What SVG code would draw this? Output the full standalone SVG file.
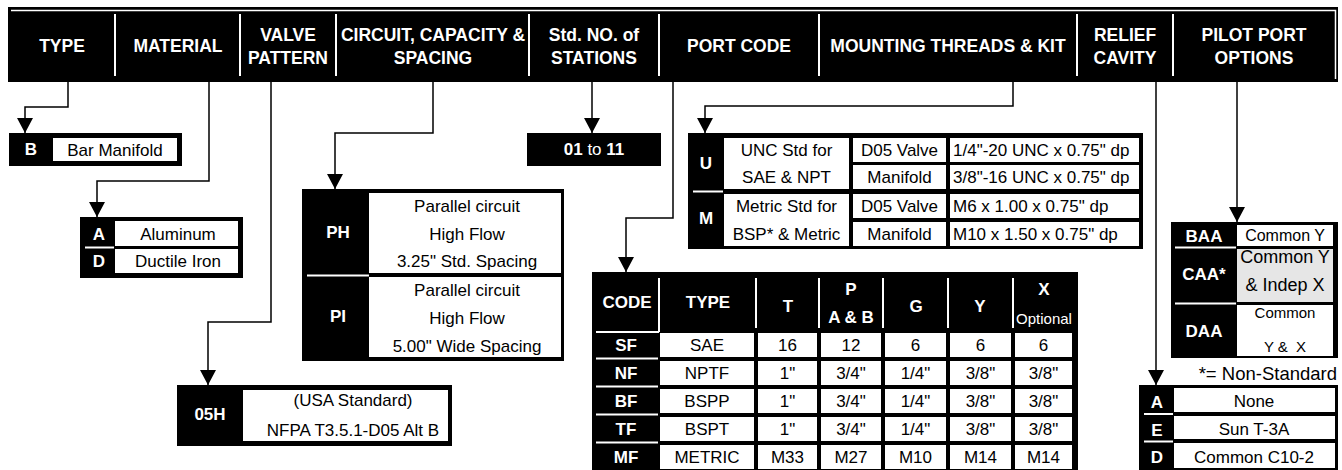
<svg xmlns="http://www.w3.org/2000/svg" width="1342" height="470" viewBox="0 0 1342 470">
<style>
.blk{fill:#000}
.wht{fill:#fff}
.gry{fill:#e6e6e6}
.sep{stroke:#fff;stroke-width:2;fill:none}
.sep1{stroke:#fff;stroke-width:1.5;fill:none}
.hd{font-family:"Liberation Sans",Arial,sans-serif;font-weight:bold;font-size:17.5px;fill:#fff;text-anchor:middle}
.lb{font-family:"Liberation Sans",Arial,sans-serif;font-weight:bold;font-size:17px;fill:#fff;text-anchor:middle}
.t{font-family:"Liberation Sans",Arial,sans-serif;font-size:17px;fill:#000;text-anchor:middle}
.tl{font-family:"Liberation Sans",Arial,sans-serif;font-size:17px;fill:#000}
.conn{fill:none;stroke:#000;stroke-width:1.5;marker-end:url(#arr)}
</style>
<defs>
<marker id="arr" markerUnits="userSpaceOnUse" markerWidth="16" markerHeight="16" refX="15" refY="8" orient="auto">
<path d="M0,0 L15,8 L0,16 Z" fill="#000"/>
</marker>
</defs>
<rect width="1342" height="470" fill="#fff"/>

<g id="header">
<rect class="blk" x="8" y="7" width="1330" height="75"/>
<path class="sep1" d="M11,10.5 H1335.5 V79"/>
<path class="sep" d="M115,14 V76 M240,14 V76 M336,14 V76 M529,14 V76 M659,14 V76 M819,14 V76 M1077,14 V76 M1173,14 V76"/>
<text class="hd" x="62" y="52">TYPE</text>
<text class="hd" x="178" y="52">MATERIAL</text>
<text class="hd" x="288" y="41">VALVE</text>
<text class="hd" x="288" y="64">PATTERN</text>
<text class="hd" x="433" y="41">CIRCUIT, CAPACITY &amp;</text>
<text class="hd" x="433" y="64">SPACING</text>
<text class="hd" x="594" y="41">Std. NO. of</text>
<text class="hd" x="594" y="64">STATIONS</text>
<text class="hd" x="739" y="52">PORT CODE</text>
<text class="hd" x="948" y="52">MOUNTING THREADS &amp; KIT</text>
<text class="hd" x="1125" y="41">RELIEF</text>
<text class="hd" x="1125" y="64">CAVITY</text>
<text class="hd" x="1254" y="41">PILOT PORT</text>
<text class="hd" x="1254" y="64">OPTIONS</text>
</g>

<g id="connectors">
<path class="conn" d="M68,82 V107 H25 V133"/>
<path class="conn" d="M209,82 V181 H97 V217"/>
<path class="conn" d="M271,82 V322 H208 V385"/>
<path class="conn" d="M433,82 V133 H335 V189"/>
<path class="conn" d="M592,82 V133"/>
<path class="conn" d="M673,82 V218 H626 V272"/>
<path class="conn" d="M1013,82 V106 H705 V133"/>
<path class="conn" d="M1156,82 V385"/>
<path class="conn" d="M1237,82 V222"/>
</g>

<g id="type-box">
<rect class="blk" x="9" y="133" width="173" height="33"/>
<rect class="wht" x="53" y="138" width="124" height="23"/>
<text class="lb" x="31" y="155">B</text>
<text class="t" x="115" y="156">Bar Manifold</text>
</g>

<g id="material-box">
<rect class="blk" x="80" y="217" width="163" height="61"/>
<rect class="wht" x="115" y="221" width="123" height="25"/>
<rect class="wht" x="115" y="249" width="123" height="24"/>
<path class="sep" d="M85,247.5 H114"/>
<text class="lb" x="99" y="240">A</text>
<text class="lb" x="99" y="267">D</text>
<text class="t" x="178" y="240">Aluminum</text>
<text class="t" x="178" y="267">Ductile Iron</text>
</g>

<g id="valve-box">
<rect class="blk" x="177" y="385" width="275" height="61"/>
<rect class="wht" x="243" y="390" width="205" height="51"/>
<text class="lb" x="210" y="420">05H</text>
<text class="t" x="353" y="406">(USA Standard)</text>
<text class="t" x="353" y="436">NFPA T3.5.1-D05 Alt B</text>
</g>

<g id="circuit-box">
<rect class="blk" x="302" y="189" width="262" height="172"/>
<rect class="wht" x="369" y="193" width="192" height="80"/>
<rect class="wht" x="369" y="277" width="192" height="80"/>
<path class="sep" d="M307,275.5 H369"/>
<text class="lb" x="338" y="238">PH</text>
<text class="lb" x="338" y="322">PI</text>
<text class="t" x="467" y="212">Parallel circuit</text>
<text class="t" x="467" y="240">High Flow</text>
<text class="t" x="467" y="267">3.25" Std. Spacing</text>
<text class="t" x="467" y="296">Parallel circuit</text>
<text class="t" x="467" y="324">High Flow</text>
<text class="t" x="467" y="352">5.00" Wide Spacing</text>
</g>

<g id="stations-box">
<rect class="blk" x="527" y="133" width="134" height="33"/>
<text class="lb" x="594" y="155">01<tspan style="font-weight:normal"> to </tspan>11</text>
</g>

<g id="port-table">
<rect class="blk" x="592" y="272" width="486" height="198"/>
<path class="sep" d="M659,278 V332 M596,332 H659"/>
<path class="sep" d="M756,278 V328 M819,278 V328 M883,278 V328 M948,278 V328 M1013,278 V328"/>
<path class="sep" d="M596,358.5 H658 M596,386.5 H658 M596,414.5 H658 M596,442.5 H658"/>
<text class="lb" x="627" y="308">CODE</text>
<text class="lb" x="708" y="308">TYPE</text>
<text class="lb" x="788" y="312">T</text>
<text class="lb" x="851" y="295">P</text>
<text class="lb" x="851" y="323">A &amp; B</text>
<text class="lb" x="916" y="312">G</text>
<text class="lb" x="980" y="312">Y</text>
<text class="lb" x="1044" y="295">X</text>
<text class="lb" x="1044" y="324" style="font-weight:normal;font-size:15px">Optional</text>
<g id="port-cells">
<rect class="wht" x="660" y="333" width="94" height="24"/><rect class="wht" x="758" y="333" width="59" height="24"/><rect class="wht" x="821" y="333" width="60" height="24"/><rect class="wht" x="885" y="333" width="61" height="24"/><rect class="wht" x="950" y="333" width="61" height="24"/><rect class="wht" x="1015" y="333" width="57" height="24"/>
<rect class="wht" x="660" y="361" width="94" height="24"/><rect class="wht" x="758" y="361" width="59" height="24"/><rect class="wht" x="821" y="361" width="60" height="24"/><rect class="wht" x="885" y="361" width="61" height="24"/><rect class="wht" x="950" y="361" width="61" height="24"/><rect class="wht" x="1015" y="361" width="57" height="24"/>
<rect class="wht" x="660" y="389" width="94" height="24"/><rect class="wht" x="758" y="389" width="59" height="24"/><rect class="wht" x="821" y="389" width="60" height="24"/><rect class="wht" x="885" y="389" width="61" height="24"/><rect class="wht" x="950" y="389" width="61" height="24"/><rect class="wht" x="1015" y="389" width="57" height="24"/>
<rect class="wht" x="660" y="417" width="94" height="24"/><rect class="wht" x="758" y="417" width="59" height="24"/><rect class="wht" x="821" y="417" width="60" height="24"/><rect class="wht" x="885" y="417" width="61" height="24"/><rect class="wht" x="950" y="417" width="61" height="24"/><rect class="wht" x="1015" y="417" width="57" height="24"/>
<rect class="wht" x="660" y="445" width="94" height="24"/><rect class="wht" x="758" y="445" width="59" height="24"/><rect class="wht" x="821" y="445" width="60" height="24"/><rect class="wht" x="885" y="445" width="61" height="24"/><rect class="wht" x="950" y="445" width="61" height="24"/><rect class="wht" x="1015" y="445" width="57" height="24"/>
</g>
<text class="lb" x="626" y="351">SF</text>
<text class="lb" x="626" y="379">NF</text>
<text class="lb" x="626" y="407">BF</text>
<text class="lb" x="626" y="435">TF</text>
<text class="lb" x="626" y="463">MF</text>
<text class="t" x="707" y="351">SAE</text><text class="t" x="787.5" y="351">16</text><text class="t" x="851" y="351">12</text><text class="t" x="915.5" y="351">6</text><text class="t" x="980.5" y="351">6</text><text class="t" x="1043.5" y="351">6</text>
<text class="t" x="707" y="379">NPTF</text><text class="t" x="787.5" y="379">1"</text><text class="t" x="851" y="379">3/4"</text><text class="t" x="915.5" y="379">1/4"</text><text class="t" x="980.5" y="379">3/8"</text><text class="t" x="1043.5" y="379">3/8"</text>
<text class="t" x="707" y="407">BSPP</text><text class="t" x="787.5" y="407">1"</text><text class="t" x="851" y="407">3/4"</text><text class="t" x="915.5" y="407">1/4"</text><text class="t" x="980.5" y="407">3/8"</text><text class="t" x="1043.5" y="407">3/8"</text>
<text class="t" x="707" y="435">BSPT</text><text class="t" x="787.5" y="435">1"</text><text class="t" x="851" y="435">3/4"</text><text class="t" x="915.5" y="435">1/4"</text><text class="t" x="980.5" y="435">3/8"</text><text class="t" x="1043.5" y="435">3/8"</text>
<text class="t" x="707" y="463">METRIC</text><text class="t" x="787.5" y="463">M33</text><text class="t" x="851" y="463">M27</text><text class="t" x="915.5" y="463">M10</text><text class="t" x="980.5" y="463">M14</text><text class="t" x="1043.5" y="463">M14</text>
</g>

<g id="mounting-table">
<rect class="blk" x="688" y="133" width="455" height="116"/>
<rect class="wht" x="724" y="138" width="125" height="51"/>
<rect class="wht" x="724" y="194" width="125" height="52"/>
<rect class="wht" x="853" y="138" width="93" height="24"/>
<rect class="wht" x="853" y="165" width="93" height="24"/>
<rect class="wht" x="853" y="194" width="93" height="24"/>
<rect class="wht" x="853" y="222" width="93" height="24"/>
<rect class="wht" x="950" y="138" width="189" height="24"/>
<rect class="wht" x="950" y="165" width="189" height="24"/>
<rect class="wht" x="950" y="194" width="189" height="24"/>
<rect class="wht" x="950" y="222" width="189" height="24"/>
<path class="sep" d="M693,191.5 H723"/>
<text class="lb" x="706" y="169">U</text>
<text class="lb" x="706" y="224">M</text>
<text class="t" x="786.5" y="156">UNC Std for</text>
<text class="t" x="786.5" y="183">SAE &amp; NPT</text>
<text class="t" x="786.5" y="212">Metric Std for</text>
<text class="t" x="786.5" y="240">BSP* &amp; Metric</text>
<text class="t" x="899.5" y="156">D05 Valve</text>
<text class="t" x="899.5" y="183">Manifold</text>
<text class="t" x="899.5" y="212">D05 Valve</text>
<text class="t" x="899.5" y="240">Manifold</text>
<text class="tl" x="953" y="156">1/4"-20 UNC x 0.75" dp</text>
<text class="tl" x="953" y="183">3/8"-16 UNC x 0.75" dp</text>
<text class="tl" x="953" y="212">M6 x 1.00 x 0.75" dp</text>
<text class="tl" x="953" y="240">M10 x 1.50 x 0.75" dp</text>
</g>

<g id="relief-box">
<rect class="blk" x="1139" y="385" width="199" height="85"/>
<rect class="wht" x="1174" y="388" width="161" height="24"/>
<rect class="wht" x="1174" y="416" width="161" height="23"/>
<rect class="wht" x="1174" y="443" width="161" height="25"/>
<path class="sep" d="M1144,414 H1173 M1144,441.5 H1173"/>
<text class="lb" x="1157" y="408">A</text>
<text class="lb" x="1157" y="436">E</text>
<text class="lb" x="1157" y="463">D</text>
<text class="t" x="1254" y="407">None</text>
<text class="t" x="1254" y="435">Sun T-3A</text>
<text class="t" x="1254" y="463">Common C10-2</text>
<text class="t" x="1337" y="380" style="text-anchor:end;font-size:18.5px">*= Non-Standard</text>
</g>

<g id="pilot-box">
<rect class="blk" x="1171" y="222" width="167" height="136"/>
<rect class="wht" x="1237" y="225" width="96" height="21"/>
<rect class="gry" x="1237" y="249" width="96" height="53"/>
<rect class="wht" x="1237" y="305" width="96" height="51"/>
<path class="sep" d="M1175,247.5 H1236 M1175,303.5 H1236"/>
<text class="lb" x="1204" y="242">BAA</text>
<text class="lb" x="1204" y="280">CAA*</text>
<text class="lb" x="1204" y="337">DAA</text>
<text class="t" x="1285" y="241" style="font-size:16px">Common Y</text>
<text class="t" x="1285" y="263" style="font-size:18px">Common Y</text>
<text class="t" x="1285" y="291" style="font-size:18px">&amp; Indep X</text>
<text class="t" x="1285" y="318" style="font-size:15px">Common</text>
<text class="t" x="1285" y="352" style="font-size:15px;white-space:pre">Y &amp;  X</text>
</g>
</svg>
